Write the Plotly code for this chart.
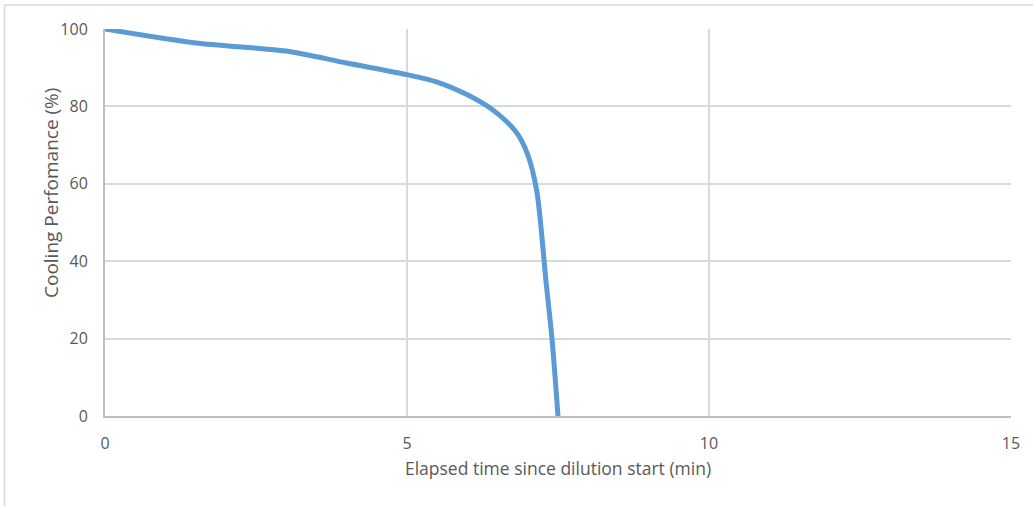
import plotly.graph_objects as go

time_min = [0, 1.5, 3, 4, 5, 5.5, 6, 6.4, 6.8, 7.0, 7.15, 7.3, 7.4, 7.5]
cooling_pct = [100, 96.4, 94.3, 91.2, 88.2, 86.3, 83, 79.3, 73.5, 67.5, 58, 35, 20, 0]

x_ticks = [0, 5, 10, 15]
y_ticks = [0, 20, 40, 60, 80, 100]

FONT = "Open Sans"
TXT = "#595959"

fig = go.Figure()
fig.add_trace(go.Scatter(
    x=time_min, y=cooling_pct, mode="lines",
    line=dict(color="#5B9BD5", width=5, shape="spline", smoothing=0.8),
    showlegend=False, hoverinfo="skip",
))

L, R, T, B = 105, 22, 29, 90
W, H = 1033, 506
pw, ph = W - L - R, H - T - B

fig.update_layout(
    width=W, height=H,
    margin=dict(l=L, r=R, t=T, b=B),
    paper_bgcolor="white", plot_bgcolor="white",
    font=dict(family=FONT, color=TXT, size=16),
    xaxis=dict(
        range=[0, 15], tickvals=x_ticks, showgrid=True, gridcolor="#D9D9D9", gridwidth=2,
        zeroline=False, showline=True, linecolor="#BFBFBF", linewidth=2,
        ticks="", ticklabelstandoff=12,
        title=dict(text="Elapsed time since dilution start (min)", standoff=10,
                   font=dict(size=17.5, color=TXT)),
        tickfont=dict(size=16, color=TXT),
    ),
    yaxis=dict(
        range=[0, 100], tickvals=y_ticks, showgrid=True, gridcolor="#D9D9D9", gridwidth=2,
        zeroline=False, showline=True, linecolor="#BFBFBF", linewidth=2,
        ticks="", ticklabelstandoff=12,
        tickfont=dict(size=16, color=TXT),
    ),
)

# y-axis title (placed as in the reference, slightly above plot centre)
fig.add_annotation(
    text="Cooling Perfomance (%)", textangle=-90, showarrow=False,
    xref="paper", yref="paper", x=(51 - L) / pw, y=(H - B - 193) / ph,
    xanchor="center", yanchor="middle",
    font=dict(family=FONT, size=19, color=TXT),
)

# outer chart frame (top and left edges visible)
x0 = (4.5 - L) / pw
y0 = (H - B - 5) / ph
fig.add_shape(type="line", xref="paper", yref="paper", x0=x0, x1=1.5, y0=y0, y1=y0,
              line=dict(color="#D9D9D9", width=1.5))
fig.add_shape(type="line", xref="paper", yref="paper", x0=x0, x1=x0, y0=y0, y1=-1,
              line=dict(color="#D9D9D9", width=1.5))

fig.write_html("out.html")
